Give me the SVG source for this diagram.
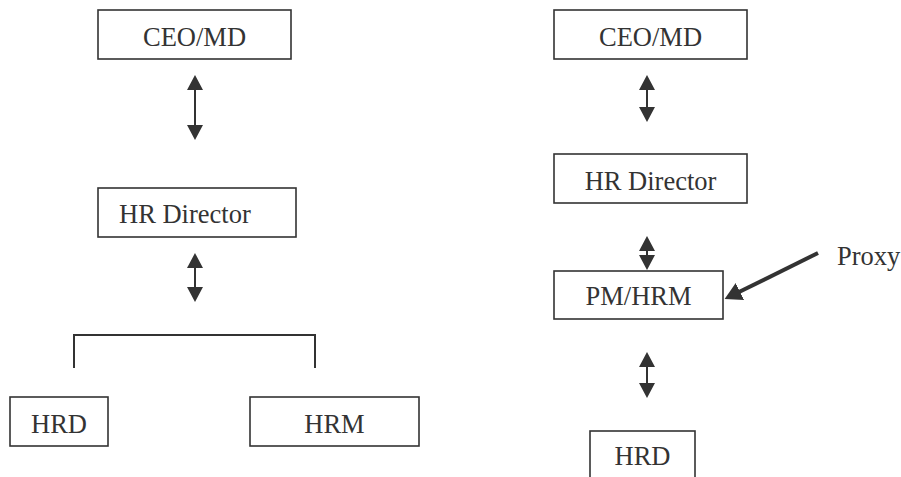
<svg xmlns="http://www.w3.org/2000/svg" width="901" height="477" viewBox="0 0 901 477">
<defs>
<style>
.box{fill:#fff;stroke:#333;stroke-width:1.6}
.t{font-family:'Liberation Serif','DejaVu Serif',serif;font-size:26.5px;fill:#333;text-anchor:middle}
.c{stroke:#333;stroke-width:2;fill:none}
</style>
<marker id="ah" viewBox="0 0 15 16" markerUnits="userSpaceOnUse" markerWidth="15" markerHeight="16" refX="1" refY="8" orient="auto-start-reverse">
<path d="M0,0 L15,8 L0,16 z" fill="#333"/>
</marker>
<marker id="ahb" viewBox="0 0 17 19" markerUnits="userSpaceOnUse" markerWidth="17" markerHeight="19" refX="1" refY="9.5" orient="auto">
<path d="M0,0 L17,9.5 L0,19 z" fill="#333"/>
</marker>
</defs>
<rect width="901" height="477" fill="#fff"/>
<g id="connectors">
<line class="c" x1="195" y1="89" x2="195" y2="126" marker-start="url(#ah)" marker-end="url(#ah)"/>
<line class="c" x1="195" y1="267" x2="195" y2="288" marker-start="url(#ah)" marker-end="url(#ah)"/>
<path class="c" d="M74,368 V335 H315 V368"/>
<line class="c" x1="647" y1="89" x2="647" y2="108" marker-start="url(#ah)" marker-end="url(#ah)"/>
<line class="c" x1="647" y1="250" x2="647" y2="256" marker-start="url(#ah)" marker-end="url(#ah)"/>
<line class="c" x1="647" y1="366" x2="647" y2="384" marker-start="url(#ah)" marker-end="url(#ah)"/>
<line class="c" style="stroke-width:4" x1="818" y1="253" x2="739" y2="292" marker-end="url(#ahb)"/>
</g>
<g id="l-ceo"><rect class="box" x="98" y="10" width="193" height="49"/><text class="t" x="194.5" y="46">CEO/MD</text></g>
<g id="l-hrdir"><rect class="box" x="98" y="188" width="198" height="49"/><text class="t" x="119" y="223" style="text-anchor:start">HR Director</text></g>
<g id="l-hrd"><rect class="box" x="10" y="397" width="98" height="49"/><text class="t" x="59" y="433">HRD</text></g>
<g id="l-hrm"><rect class="box" x="250" y="397" width="169" height="49"/><text class="t" x="334.5" y="433">HRM</text></g>
<g id="r-ceo"><rect class="box" x="554" y="10" width="193" height="49"/><text class="t" x="650.5" y="46">CEO/MD</text></g>
<g id="r-hrdir"><rect class="box" x="554" y="154" width="193" height="49"/><text class="t" x="650.5" y="190">HR Director</text></g>
<g id="r-pmhrm"><rect class="box" x="554" y="271" width="169" height="48"/><text class="t" x="638.5" y="305">PM/HRM</text></g>
<g id="r-hrd"><rect class="box" x="590" y="431" width="105" height="60"/><text class="t" x="642.5" y="465">HRD</text></g>
<g id="proxy"><text class="t" x="837" y="265" style="text-anchor:start">Proxy</text></g>
</svg>
